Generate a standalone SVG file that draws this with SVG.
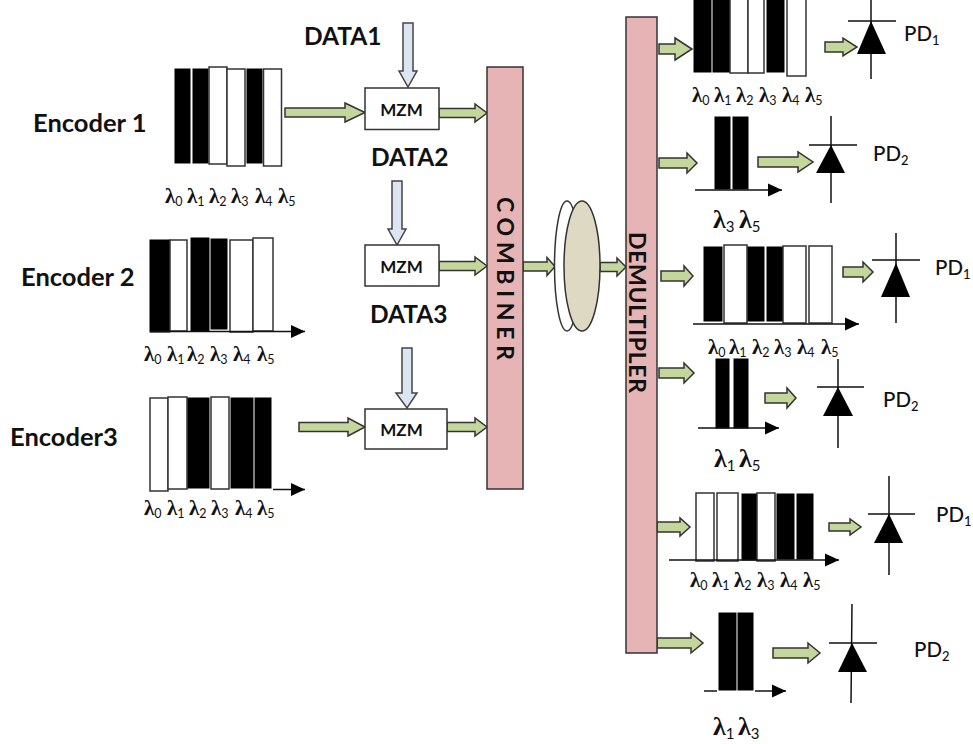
<svg xmlns="http://www.w3.org/2000/svg" width="973" height="744" viewBox="0 0 973 744">
<style>
text{font-family:"Lato","Open Sans","Liberation Sans",sans-serif;fill:#111}
.enc{font-size:25.5px;font-weight:700}
.dat{font-size:24.5px;font-weight:700}
.mzm{font-size:17px;font-weight:700;text-anchor:middle}
.bar{font-size:23px;font-weight:700}
.pd{font-size:20.5px;font-weight:500}
.pd tspan{font-size:13px}
.l{font-family:"Liberation Serif",serif;font-size:21px;font-weight:700}
.l tspan{font-family:"Lato",sans-serif;font-size:12.5px;font-weight:400}
.L{font-family:"Liberation Serif",serif;font-size:26px;font-weight:700}
.L tspan{font-family:"Lato",sans-serif;font-size:15px;font-weight:400}
.k{fill:#000;stroke:#000;stroke-width:1}
.w{fill:#fff;stroke:#333;stroke-width:1.5}
.box{fill:#fff;stroke:#333;stroke-width:1.5}
.pink{fill:#e6b4b4;stroke:#333;stroke-width:1.5}
.g{fill:#c3d69b;stroke:#333;stroke-width:1.5}
.d{fill:#dce6f2;stroke:#444;stroke-width:1.5}
.ax{stroke:#111;stroke-width:1.5;fill:none;marker-end:url(#tip)}
.ln{stroke:#111;stroke-width:1.5;fill:none}
.tri{fill:#000}
</style>
<defs>
<marker id="tip" markerUnits="userSpaceOnUse" markerWidth="15" markerHeight="14" refX="14" refY="7" orient="auto"><path d="M0 0.5L14 7L0 13.5Z" fill="#000"/></marker>
</defs>

<g id="connectors">
<polygon class="g" points="285,108 345,108 345,103 365,112.5 345,122 345,117 285,117"/>
<polygon class="g" points="439,108.5 475,108.5 475,104 487,113 475,122 475,117.5 439,117.5"/>
<polygon class="g" points="439,261.5 475,261.5 475,257 487,266 475,275 475,270.5 439,270.5"/>
<polygon class="g" points="299,422.5 348,422.5 348,418 365,427 348,436 348,431.5 299,431.5"/>
<polygon class="g" points="447,422.5 475,422.5 475,418 487,427 475,436 475,431.5 447,431.5"/>
<polygon class="g" points="523,262 547,262 547,257.5 555,266.5 547,275.5 547,271 523,271"/>
<polygon class="g" points="600,262.5 617,262.5 617,258 626,267 617,276 617,271.5 600,271.5"/>
<polygon class="d" points="403,23 413,23 413,71 417,71 408,87 399,71 403,71"/>
<polygon class="d" points="392,181 402,181 402,229 406,229 397,245 388,229 392,229"/>
<polygon class="d" points="402,348 412,348 412,393 417,393 407,408 396,393 402,393"/>
<polygon class="g" points="659,44 675,44 675,38 692,49 675,60 675,54 659,54"/>
<polygon class="g" points="659,158 687,158 687,153 697,163 687,173 687,168 659,168"/>
<polygon class="g" points="661,271 684,271 684,266 693,276 684,286 684,281 661,281"/>
<polygon class="g" points="659,368 684,368 684,363 694,373 684,383 684,378 659,378"/>
<polygon class="g" points="657,522 680,522 680,518 690,527 680,536 680,532 657,532"/>
<polygon class="g" points="657,638 691,638 691,633 703,643 691,653 691,648 657,648"/>
<polygon class="g" points="825,42 843,42 843,38 857,47 843,56 843,52 825,52"/>
<polygon class="g" points="758,157 798,157 798,152 813,162 798,172 798,167 758,167"/>
<polygon class="g" points="843,267 863,267 863,262 873,272 863,282 863,277 843,277"/>
<polygon class="g" points="765,393 787,393 787,388 796,398 787,408 787,403 765,403"/>
<polygon class="g" points="829,523 850,523 850,519 861,527 850,535 850,531 829,531"/>
<polygon class="g" points="773,648 808,648 808,643 820,653 808,663 808,658 773,658"/>
</g>

<g id="encoder1">
<text class="enc" x="33" y="132">Encoder 1</text>
<rect class="k" x="175" y="69" width="15" height="94"/><rect class="k" x="193" y="69" width="15" height="94"/>
<rect class="w" x="209" y="67" width="18" height="97"/><rect class="w" x="227" y="69" width="18" height="97"/>
<rect class="k" x="247" y="69" width="15" height="94"/><rect class="w" x="263.500" y="69" width="18" height="97"/>
<text class="l" x="165" y="203">λ<tspan dy="3">0</tspan></text><text class="l" x="187" y="203">λ<tspan dy="3">1</tspan></text><text class="l" x="209" y="203">λ<tspan dy="3">2</tspan></text><text class="l" x="231" y="203">λ<tspan dy="3">3</tspan></text><text class="l" x="255" y="203">λ<tspan dy="3">4</tspan></text><text class="l" x="278" y="203">λ<tspan dy="3">5</tspan></text>
</g>

<g id="encoder2">
<text class="enc" x="21" y="286">Encoder 2</text>
<rect class="k" x="150" y="240" width="20" height="92"/><rect class="w" x="170" y="240" width="17" height="91"/>
<rect class="k" x="191" y="238" width="18" height="93"/><rect class="k" x="211" y="239" width="16" height="90"/>
<rect class="w" x="230" y="240" width="23" height="92"/><rect class="w" x="253" y="238" width="20" height="93"/>
<line class="ax" x1="150" y1="331.500" x2="305" y2="331.500"/>
<text class="l" x="144" y="361">λ<tspan dy="3">0</tspan></text><text class="l" x="167" y="361">λ<tspan dy="3">1</tspan></text><text class="l" x="187" y="361">λ<tspan dy="3">2</tspan></text><text class="l" x="210" y="361">λ<tspan dy="3">3</tspan></text><text class="l" x="233" y="361">λ<tspan dy="3">4</tspan></text><text class="l" x="257" y="361">λ<tspan dy="3">5</tspan></text>
</g>

<g id="encoder3">
<text class="enc" x="10" y="446">Encoder3</text>
<rect class="w" x="150" y="398" width="18" height="93"/><rect class="w" x="168" y="397" width="19" height="92"/>
<rect class="k" x="188" y="398" width="21" height="90"/><rect class="w" x="211" y="397" width="18" height="92"/>
<rect class="k" x="231" y="398" width="22" height="90"/><rect class="k" x="255" y="398" width="16" height="90"/>
<line class="ax" x1="273" y1="489.500" x2="305" y2="489.500"/>
<text class="l" x="144" y="515">λ<tspan dy="3">0</tspan></text><text class="l" x="167" y="515">λ<tspan dy="3">1</tspan></text><text class="l" x="189" y="515">λ<tspan dy="3">2</tspan></text><text class="l" x="211" y="515">λ<tspan dy="3">3</tspan></text><text class="l" x="235" y="515">λ<tspan dy="3">4</tspan></text><text class="l" x="257" y="515">λ<tspan dy="3">5</tspan></text>
</g>

<g id="mzm1"><rect class="box" x="365" y="88" width="74" height="41.500"/><text class="mzm" x="401.500" y="116">MZM</text><text class="dat" x="304" y="45">DATA1</text><text class="dat" x="371" y="166">DATA2</text></g>
<g id="mzm2"><rect class="box" x="365" y="245" width="74" height="41"/><text class="mzm" x="401.500" y="273">MZM</text><text class="dat" x="370" y="323">DATA3</text></g>
<g id="mzm3"><rect class="box" x="365" y="409" width="82" height="40"/><text class="mzm" x="401.500" y="436">MZM</text></g>

<g id="combiner"><rect class="pink" x="487" y="67" width="36" height="422"/>
<text class="bar" transform="translate(497 197) rotate(90)" textLength="163">COMBINER</text></g>

<g id="lens"><ellipse cx="567" cy="266" rx="12.500" ry="65" fill="#fff" stroke="#333" stroke-width="1.500"/><ellipse cx="582" cy="266" rx="18" ry="65" fill="#ddd9c3" stroke="#333" stroke-width="1.500"/></g>

<g id="demultiplexer"><rect class="pink" x="626" y="17" width="31" height="636"/>
<text class="bar" transform="translate(629 232) rotate(90)" textLength="161">DEMULTIPLER</text></g>

<g id="spectrum1">
<rect class="k" x="694" y="-2" width="17" height="74"/><rect class="k" x="713" y="-2" width="17" height="74"/>
<rect class="w" x="730" y="-2" width="18" height="75"/><rect class="w" x="748" y="-2" width="16" height="75"/>
<rect class="k" x="767" y="-2" width="17" height="74"/><rect class="w" x="787" y="-2" width="19" height="78"/>
<text class="l" x="692" y="102">λ<tspan dy="3">0</tspan></text><text class="l" x="714" y="102">λ<tspan dy="3">1</tspan></text><text class="l" x="736" y="102">λ<tspan dy="3">2</tspan></text><text class="l" x="759" y="102">λ<tspan dy="3">3</tspan></text><text class="l" x="782" y="102">λ<tspan dy="3">4</tspan></text><text class="l" x="805" y="102">λ<tspan dy="3">5</tspan></text>
</g>
<g id="pd1a"><path class="ln" d="M871 0V79M848 21H896"/><polygon class="tri" points="871,21 886,54 857,54"/><text class="pd" x="904" y="41">PD<tspan dy="4">1</tspan></text></g>

<g id="spectrum2">
<rect class="k" x="715" y="117" width="15" height="72"/><rect class="k" x="733" y="117" width="15" height="72"/>
<line class="ax" x1="695" y1="190" x2="782" y2="190"/>
<text class="L" x="713" y="228">λ<tspan dy="4">3</tspan></text><text class="L" x="739" y="228">λ<tspan dy="4">5</tspan></text>
</g>
<g id="pd2a"><path class="ln" d="M831 116V203M809 145H857"/><polygon class="tri" points="831,145 845,173 816,173"/><text class="pd" x="873" y="161">PD<tspan dy="4">2</tspan></text></g>

<g id="spectrum3">
<rect class="k" x="704" y="247" width="18" height="74"/><rect class="w" x="724" y="245" width="23" height="78"/>
<rect class="k" x="748" y="247" width="16" height="74"/><rect class="k" x="767" y="247" width="16" height="74"/>
<rect class="w" x="783" y="246" width="23" height="77"/><rect class="w" x="809" y="246" width="23" height="77"/>
<line class="ax" x1="693" y1="324" x2="859" y2="324"/>
<text class="l" x="708" y="354">λ<tspan dy="3">0</tspan></text><text class="l" x="729" y="354">λ<tspan dy="3">1</tspan></text><text class="l" x="752" y="354">λ<tspan dy="3">2</tspan></text><text class="l" x="774" y="354">λ<tspan dy="3">3</tspan></text><text class="l" x="797" y="354">λ<tspan dy="3">4</tspan></text><text class="l" x="821" y="354">λ<tspan dy="3">5</tspan></text>
</g>
<g id="pd1b"><path class="ln" d="M896 233V323M872 260H920"/><polygon class="tri" points="896,263 910,297 881,297"/><text class="pd" x="935" y="275">PD<tspan dy="4">1</tspan></text></g>

<g id="spectrum4">
<rect class="k" x="716" y="359" width="13" height="69"/><rect class="k" x="734" y="359" width="14" height="69"/>
<line class="ax" x1="698" y1="428" x2="779" y2="428"/>
<text class="L" x="714" y="467">λ<tspan dy="4">1</tspan></text><text class="L" x="739" y="467">λ<tspan dy="4">5</tspan></text>
</g>
<g id="pd2b"><path class="ln" d="M838 359V448M817 387H864"/><polygon class="tri" points="838,387 853,416 823,416"/><text class="pd" x="883" y="407">PD<tspan dy="4">2</tspan></text></g>

<g id="spectrum5">
<rect class="w" x="696" y="493" width="18" height="68"/><rect class="w" x="717" y="493" width="21" height="68"/>
<rect class="k" x="742" y="494" width="15" height="66"/><rect class="w" x="757" y="493" width="18" height="68"/>
<rect class="k" x="777" y="494" width="17" height="65"/><rect class="k" x="797" y="494" width="16" height="65"/>
<line class="ax" x1="669" y1="560" x2="839" y2="560"/>
<text class="l" x="690" y="587">λ<tspan dy="3">0</tspan></text><text class="l" x="712" y="587">λ<tspan dy="3">1</tspan></text><text class="l" x="734" y="587">λ<tspan dy="3">2</tspan></text><text class="l" x="757" y="587">λ<tspan dy="3">3</tspan></text><text class="l" x="780" y="587">λ<tspan dy="3">4</tspan></text><text class="l" x="803" y="587">λ<tspan dy="3">5</tspan></text>
</g>
<g id="pd1c"><path class="ln" d="M889 476V575M868 514H915"/><polygon class="tri" points="889,514 903,543 874,543"/><text class="pd" x="936" y="522">PD<tspan dy="4">1</tspan></text></g>

<g id="spectrum6">
<rect class="k" x="719" y="613" width="17" height="77"/><rect class="k" x="738" y="613" width="15" height="77"/>
<path class="ln" d="M704 691H717"/><line class="ax" x1="755" y1="691" x2="786" y2="691"/>
<text class="L" x="713" y="735">λ<tspan dy="4">1</tspan></text><text class="L" x="738" y="735">λ<tspan dy="4">3</tspan></text>
</g>
<g id="pd2c"><path class="ln" d="M852 604L851 703M829 643H877"/><polygon class="tri" points="852,643 867,672 838,672"/><text class="pd" x="914" y="657">PD<tspan dy="4">2</tspan></text></g>
</svg>
